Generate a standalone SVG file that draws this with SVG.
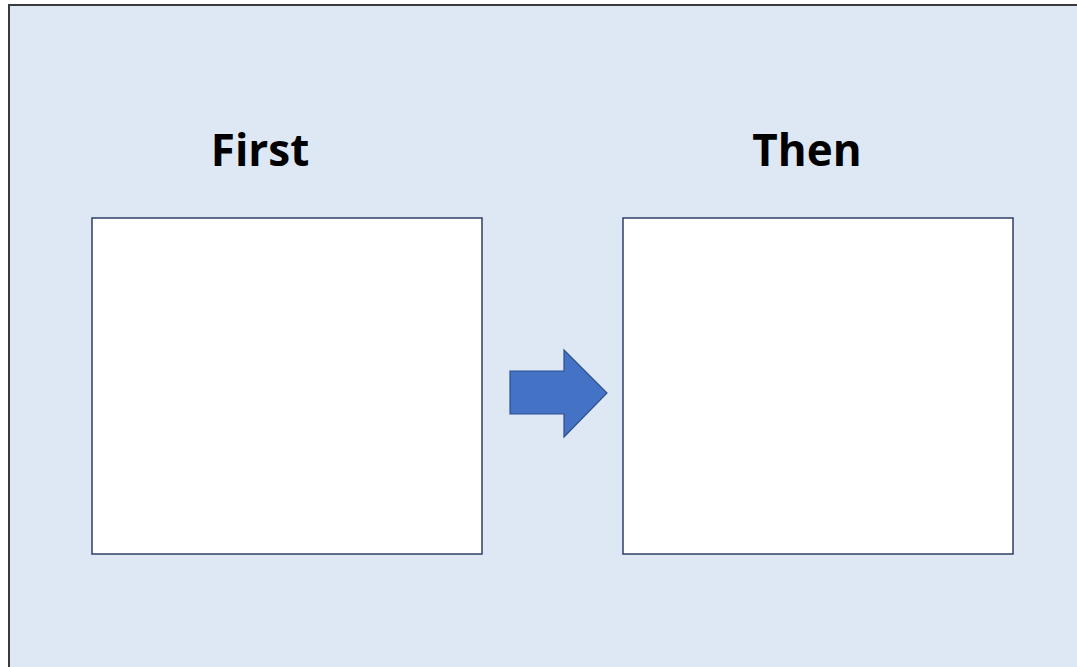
<svg xmlns="http://www.w3.org/2000/svg" width="1077" height="667" viewBox="0 0 1077 667">
<style>
.frame{fill:#dee8f4;stroke:#3a3a3a;stroke-width:2}
.box{fill:#ffffff;stroke:#2f3f66;stroke-width:1.5}
.title{font-family:"Open Sans","Noto Sans",sans-serif;font-weight:bold;font-size:44px;fill:#000000;text-anchor:middle}
.arrow{fill:#4472c4;stroke:#2f4f8f;stroke-width:1.2}
</style>
<rect x="0" y="0" width="1077" height="667" fill="#ffffff"/>
<rect class="frame" x="9" y="5" width="1080" height="680"/>
<g id="first">
<text class="title" x="260" y="166">First</text>
<rect class="box" x="92" y="218" width="390" height="336"/>
</g>
<g id="then">
<text class="title" x="807" y="166">Then</text>
<rect class="box" x="623" y="218" width="390" height="336"/>
</g>
<g id="connectors">
<path class="arrow" d="M510,371 H564 V350 L607,393 L564,437 V414 H510 Z"/>
</g>
</svg>
